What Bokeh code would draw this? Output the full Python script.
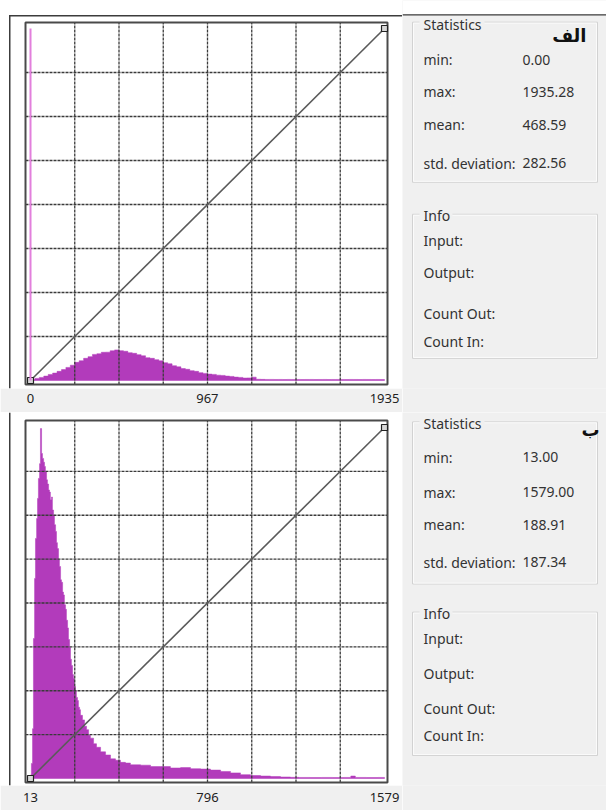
import numpy as np
from bokeh.plotting import figure
from bokeh.models import Range1d, FixedTicker
from bokeh.layouts import column, row
from bokeh.embed import file_html
from bokeh.resources import INLINE
from bokeh.core.properties import value

# ---------------- data: panel "الف" ----------------
a_letter = "الف"
a_min, a_max = 0, 1935
a_ticks = [0, 967, 1935]
# relative frequency (% of plot height), 80 equal bins from a_min to a_max
a_counts = [
    0.28, 0.60, 0.88, 1.25, 1.72, 2.10, 2.60, 3.10, 3.72, 4.35,
    5.15, 5.62, 6.30, 6.78, 7.42, 7.60, 8.02, 8.05, 8.45, 8.70,
    8.48, 8.30, 7.90, 7.72, 7.35, 7.02, 6.48, 6.30, 5.92, 5.58,
    5.05, 4.75, 4.20, 3.88, 3.38, 3.18, 2.80, 2.60, 2.22, 2.02,
    1.82, 1.74, 1.52, 1.45, 1.25, 1.16, 0.96, 0.88, 0.70, 0.74,
    0.95, 0.36, 0.32, 0.30, 0.31, 0.29, 0.30, 0.28, 0.30, 0.29,
    0.30, 0.28, 0.29, 0.30, 0.28, 0.29, 0.30, 0.28, 0.29, 0.30,
    0.29, 0.28, 0.30, 0.29, 0.28, 0.30, 0.29, 0.28, 0.29, 0.28]
a_spike_x = [0]
a_spike_count = [100]
a_stats = [0.00, 1935.28, 468.59, 282.56]

# ---------------- data: panel "ب" ----------------
b_letter = "ب"
b_min, b_max = 13, 1579
b_ticks = [13, 796, 1579]
b_bin_left = [
    13, 15, 17, 22, 26, 31, 35, 40, 44, 48,
    53, 57, 62, 66, 71, 75, 79, 84, 88, 93,
    97, 101, 106, 110, 115, 119, 124, 128, 132, 137,
    141, 146, 150, 155, 159, 163, 168, 172, 177, 181,
    186, 190, 194, 199, 203, 208, 212, 216, 221, 225,
    230, 234, 243, 252, 261, 270, 278, 292, 305, 323,
    345, 367, 389, 411, 433, 455, 500, 544, 588, 632,
    677, 721, 765, 809, 854, 898, 942, 986, 1031, 1075,
    1119, 1163, 1200, 1250, 1300, 1350, 1400, 1430, 1450, 1500,
    1550]
b_counts = [
    0.6, 1.1, 4.3, 14.2, 39.9, 57.0, 68.4, 74.1, 79.8, 85.5,
    89.7, 99.7, 92.6, 91.2, 90.1, 88.9, 87.3, 85.1, 83.9, 82.2,
    81.6, 79.4, 80.2, 76.5, 75.1, 72.3, 70.4, 67.2, 65.5, 62.3,
    60.4, 56.6, 55.9, 53.1, 52.3, 49.5, 48.2, 45.1, 42.9, 39.6,
    37.3, 34.0, 32.2, 29.6, 28.5, 26.2, 25.0, 23.1, 22.2, 20.3,
    19.6, 18.0, 16.7, 14.9, 13.9, 12.3, 11.5, 9.9, 8.9, 7.6,
    6.7, 5.6, 5.2, 4.6, 4.4, 3.9, 3.8, 3.4, 3.4, 3.0,
    3.1, 2.8, 2.7, 2.4, 2.0, 1.6, 1.1, 0.85, 0.7, 0.57,
    0.43, 0.34, 0.3, 0.28, 0.3, 0.28, 0.3, 0.7, 0.3, 0.28,
    0.3]
b_stats = [13.00, 1579.00, 188.91, 187.34]

stat_labels = ["min:", "max:", "mean:", "std. deviation:"]
info_labels = ["Input:", "Output:", "Count Out:", "Count In:"]

# ---------------- styling / layout constants ----------------
MAG = "#b23bbb"
SPIKE = "#e27fdc"
PANEL_BG = "#f0f0f0"
DARK = "#3c3c3c"
FONT = "Noto Sans"
YMAX = 100
HW, SW = 402, 204            # widths of histogram part and statistics part
BOX_L, BOX_R = 25, 387       # plot box (px from left of figure)
DAT_L, DAT_R = 30, 384       # data extent inside box


def hist_fig(xmin, xmax, ticks, left, right, counts, height, band, box_t, box_b,
             dat_t, dat_b, border_top, standoff):
    fh = height - band
    upx = (xmax - xmin) / (DAT_R - DAT_L)
    vpx = YMAX / (dat_b - dat_t)
    x0 = xmin - DAT_L * upx
    y1 = YMAX + dat_t * vpx

    def X(px):
        return x0 + px * upx

    def Y(py):
        return y1 - py * vpx

    p = figure(width=HW, height=height,
               x_range=Range1d(x0, X(HW)), y_range=Range1d(Y(fh), y1),
               toolbar_location=None, output_backend="svg",
               y_axis_location=None,
               min_border_left=0, min_border_right=0, min_border_top=0,
               min_border_bottom=band)
    p.background_fill_color = "white"
    p.border_fill_color = PANEL_BG
    p.outline_line_color = None
    p.grid.visible = False

    # window border lines
    if border_top:
        p.quad(left=[X(8.5)], right=[X(HW)], top=[Y(14.5)], bottom=[Y(16)],
               fill_color=DARK, line_color=None)
    p.quad(left=[X(8.5)], right=[X(10)], top=[Y(14.5 if border_top else 0)], bottom=[Y(fh)],
           fill_color=DARK, line_color=None)

    # histogram as a single step polygon
    hx, hy = [left[0]], [0]
    for l, r, h in zip(left, right, counts):
        hx += [l, r]
        hy += [h, h]
    hx.append(right[-1])
    hy.append(0)
    p.patch(hx, hy, fill_color=MAG, line_color=MAG, line_width=0.5)

    # dashed 8 x 8 grid inside the plot box
    gx = [xmin + k * (xmax - xmin) / 8 for k in range(1, 8)]
    gy = [k * YMAX / 8 for k in range(1, 8)]
    p.segment(x0=gx, y0=[Y(box_b)] * 7, x1=gx, y1=[Y(box_t)] * 7,
              line_color="#3a3a3a", line_dash="3 1", line_width=1.3)
    p.segment(x0=[X(BOX_L)] * 7, y0=gy, x1=[X(BOX_R)] * 7, y1=gy,
              line_color="#3a3a3a", line_dash="3 1", line_width=1.3)

    # plot box
    p.quad(left=[X(BOX_L)], right=[X(BOX_R)], top=[Y(box_t)], bottom=[Y(box_b)],
           fill_color=None, line_color="#4a4a4a", line_width=2)

    # transfer line with end handles
    p.line(x=[xmin, xmax], y=[0, YMAX], line_color="#5a5a5a", line_width=1.6)
    p.scatter(x=[xmin, xmax], y=[0, YMAX], marker="square", size=6,
              fill_color="#d8d8d8", line_color="#222222", line_width=1.2)

    ax = p.xaxis[0]
    ax.ticker = FixedTicker(ticks=ticks)
    ax.axis_line_color = None
    ax.major_tick_line_color = None
    ax.minor_tick_line_color = None
    ax.major_tick_in = 0
    ax.major_tick_out = 0
    ax.major_label_standoff = standoff
    ax.major_label_text_font = FONT
    ax.major_label_text_font_size = "13px"
    ax.major_label_text_color = "#222222"
    return p


def stats_fig(y_top, height, stats, letter, letter_x, letter_y, box, rows_y,
              info_box, info_rows_y, border_top):
    p = figure(width=SW, height=height, x_range=Range1d(HW, HW + SW),
               y_range=Range1d(y_top + height, y_top),
               toolbar_location=None, output_backend="svg",
               x_axis_location=None, y_axis_location=None, min_border=0)
    p.grid.visible = False
    p.outline_line_color = None
    p.background_fill_color = PANEL_BG
    p.border_fill_color = PANEL_BG

    if border_top:
        p.quad(left=[HW], right=[HW + SW], top=[y_top], bottom=[14.5],
               fill_color="white", line_color=None)
        p.quad(left=[HW], right=[HW + SW], top=[14.5], bottom=[16],
               fill_color=DARK, line_color=None)

    bl, br = 412, 597
    # group boxes
    p.quad(left=[bl, bl], right=[br, br], top=[box[0], info_box[0]], bottom=[box[1], info_box[1]],
           fill_color=None, line_color="#d2d2d2", line_width=1)
    p.quad(left=[bl + 1, bl + 1], right=[br - 1, br - 1], top=[box[0] + 1, info_box[0] + 1],
           bottom=[box[1] - 1, info_box[1] - 1],
           fill_color=None, line_color="#fbfbfb", line_width=1)
    # gaps behind the group titles
    p.quad(left=[419, 419], right=[484, 452], top=[box[0] - 3, info_box[0] - 3],
           bottom=[box[0] + 3, info_box[0] + 3], fill_color=PANEL_BG, line_color=None)

    txt = dict(text_font=value(FONT), text_font_size="14px", text_baseline="middle",
               text_color="#333333")
    p.text(x=[423, 423], y=[box[0] + 2, info_box[0] + 1], text=["Statistics", "Info"], **txt)
    p.text(x=[423] * 4, y=rows_y, text=stat_labels, **txt)
    p.text(x=[522] * 4, y=rows_y, text=[f"{v:.2f}" for v in stats], **txt)
    p.text(x=[423] * 4, y=info_rows_y, text=info_labels, **txt)
    p.text(x=[letter_x], y=[letter_y], text=[letter], text_font=value("DejaVu Sans"),
           text_font_size="18px", text_font_style="bold", text_align="right",
           text_baseline="middle", text_color="#111111")
    return p


# panel A (top)
a_edges = np.linspace(a_min, a_max, len(a_counts) + 1)
h1 = hist_fig(a_min, a_max, a_ticks, list(a_edges[:-1]), list(a_edges[1:]), a_counts,
              height=412, band=24, box_t=22, box_b=384, dat_t=28, dat_b=380,
              border_top=True, standoff=5)
h1.segment(x0=a_spike_x, y0=[0], x1=a_spike_x, y1=a_spike_count, line_color=SPIKE, line_width=2)
s1 = stats_fig(0, 412, a_stats, a_letter, 586, 37, (23, 193), [63, 97, 132, 173],
               (227, 380), [255, 289, 332, 362], border_top=True)

# panel B (bottom)
b_right = b_bin_left[1:] + [b_max]
h2 = hist_fig(b_min, b_max, b_ticks, b_bin_left, b_right, b_counts,
              height=398, band=25, box_t=8, box_b=370, dat_t=15, dat_b=366,
              border_top=False, standoff=7)
s2 = stats_fig(412, 398, b_stats, b_letter, 599, 430, (422, 595), [460, 497, 532, 572],
               (625, 778), [653, 690, 728, 757], border_top=False)

layout = column(row(h1, s1), row(h2, s2))

open("out.html", "w").write(file_html(layout, INLINE))
